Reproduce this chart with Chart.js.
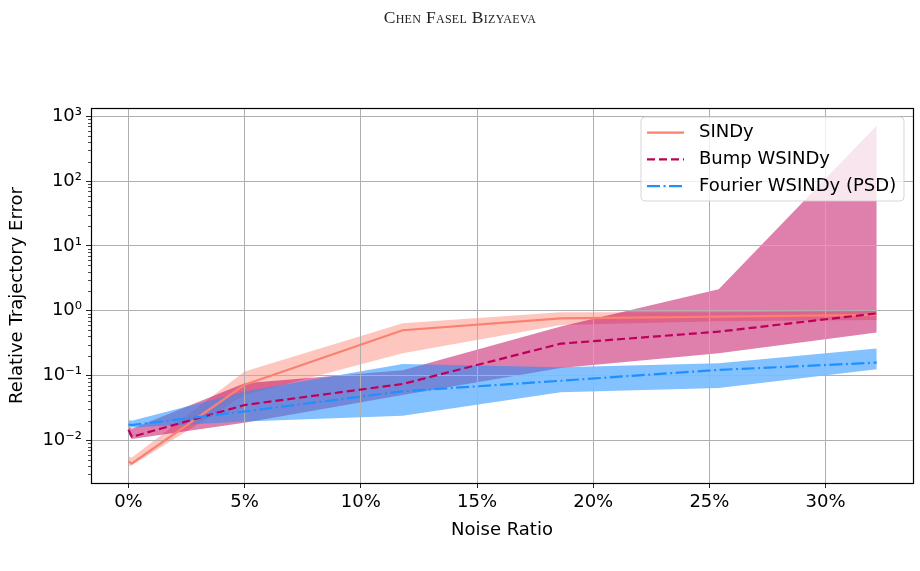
<!DOCTYPE html>
<html>
<head>
<meta charset="utf-8">
<script src="https://cdn.jsdelivr.net/npm/chart.js@4"></script>
<style>
  html, body { margin: 0; padding: 0; background: #fff; }
  #wrap { position: relative; width: 920px; height: 571px; }
  #chart { position: absolute; left: 0; top: 0; }
  #header {
    position: absolute; top: 7px; left: 0; width: 920px; text-align: center;
    font-family: 'Liberation Serif', serif; font-variant: small-caps;
    font-size: 17.5px; color: #222; letter-spacing: 0.3px;
  }
</style>
</head>
<body>
<div id="wrap">
  <canvas id="chart" width="920" height="571"></canvas>
  <div id="header">Chen Fasel Bizyaeva</div>
</div>
<script>
// noise ratio (%) of each run
const noisePct = [0, 0.15, 5.0, 11.8, 18.6, 25.4, 32.2];

// SINDy
const sindyMed = [0.0047, 0.0044, 0.072, 0.50, 0.76, 0.81, 0.86];
const sindyHi  = [0.0056, 0.0054, 0.115, 0.64, 0.95, 0.95, 0.99];
const sindyLo  = [0.0039, 0.0041, 0.050, 0.22, 0.60, 0.69, 0.72];

// Bump WSINDy
const bumpMed = [0.0145, 0.0113, 0.035, 0.074, 0.31, 0.475, 0.91];
const bumpHi  = [0.0165, 0.0150, 0.076, 0.12, 0.57, 2.14, 725];
const bumpLo  = [0.0125, 0.0105, 0.0187, 0.05, 0.13, 0.22, 0.46];

// Fourier WSINDy (PSD)
const fourierMed = [0.0175, 0.0172, 0.0278, 0.057, 0.083, 0.122, 0.158];
const fourierHi  = [0.0205, 0.0200, 0.0565, 0.15, 0.134, 0.155, 0.26];
const fourierLo  = [0.0160, 0.0158, 0.0195, 0.024, 0.055, 0.064, 0.125];

const xTicks = [0, 5, 10, 15, 20, 25, 30];
const yDecades = [-2, -1, 0, 1, 2, 3];
const yTickLabels = ['10\u207B\u00B2', '10\u207B\u00B9', '10\u2070', '10\u00B9', '10\u00B2', '10\u00B3'];

Chart.defaults.font.family = "'DejaVu Sans', sans-serif";
Chart.defaults.font.size = 18;
Chart.defaults.color = '#000';

function pts(ys) {
  return noisePct.map((x, i) => ({ x: x, y: ys[i] }));
}

function band(hi, lo, color, order) {
  return [
    { label: '', data: pts(hi), borderColor: 'rgba(0,0,0,0)', borderWidth: 0, pointRadius: 0,
      backgroundColor: color, fill: '+1', order: order },
    { label: '', data: pts(lo), borderColor: 'rgba(0,0,0,0)', borderWidth: 0, pointRadius: 0,
      fill: false, order: order }
  ];
}

const datasets = [
  ...band(sindyHi, sindyLo, 'rgba(250,128,114,0.45)', 16),
  ...band(bumpHi, bumpLo, 'rgba(190,0,90,0.5)', 15),
  ...band(fourierHi, fourierLo, 'rgba(30,144,255,0.55)', 14),
  { label: 'SINDy', data: pts(sindyMed), borderColor: '#fa8072', borderWidth: 2.2,
    pointRadius: 0, fill: false, order: 3 },
  { label: 'Bump WSINDy', data: pts(bumpMed), borderColor: 'rgb(190,0,90)', borderWidth: 2.2,
    borderDash: [8, 4], pointRadius: 0, fill: false, order: 2 },
  { label: 'Fourier WSINDy (PSD)', data: pts(fourierMed), borderColor: '#1e90ff', borderWidth: 2.2,
    borderDash: [13, 3.5, 2, 3.5], pointRadius: 0, fill: false, order: 1 }
];

// grid sits above the shaded bands but under the lines
const gridOverBands = {
  id: 'gridOverBands',
  beforeDatasetDraw(chart, args) {
    if (chart.data.datasets[args.index].label === 'SINDy') {
      chart.scales.x.drawGrid(chart.chartArea);
      chart.scales.y.drawGrid(chart.chartArea);
    }
  }
};

// minor log ticks, frame and legend box
const decorations = {
  id: 'decorations',
  afterDraw(chart) {
    const ctx = chart.ctx;
    const a = chart.chartArea;
    const y = chart.scales.y;

    ctx.save();
    ctx.strokeStyle = '#222';
    ctx.lineWidth = 0.8;
    for (let e = -3; e <= 3; e++) {
      for (let k = 2; k <= 9; k++) {
        const v = k * Math.pow(10, e);
        if (v < y.min || v > y.max) continue;
        const py = Math.round(y.getPixelForValue(v)) + 0.5;
        ctx.beginPath();
        ctx.moveTo(a.left - 3, py);
        ctx.lineTo(a.left, py);
        ctx.stroke();
      }
    }

    ctx.strokeStyle = '#000';
    ctx.lineWidth = 1.2;
    ctx.strokeRect(Math.round(a.left) + 0.5, Math.round(a.top) + 0.5,
      Math.round(a.right - a.left), Math.round(a.bottom - a.top));

    // legend
    const bx = a.right - 272, by = a.top + 9, bw = 263, bh = 84;
    ctx.beginPath();
    ctx.roundRect(bx, by, bw, bh, 4);
    ctx.fillStyle = 'rgba(255,255,255,0.8)';
    ctx.fill();
    ctx.strokeStyle = 'rgba(204,204,204,0.8)';
    ctx.lineWidth = 1;
    ctx.stroke();

    const lines = chart.data.datasets.filter(d => d.label);
    ctx.font = "18px 'DejaVu Sans', sans-serif";
    ctx.textBaseline = 'middle';
    ctx.textAlign = 'left';
    lines.forEach((d, i) => {
      const ry = by + 15.7 + i * 26.7;
      ctx.beginPath();
      ctx.setLineDash(d.borderDash || []);
      ctx.strokeStyle = d.borderColor;
      ctx.lineWidth = 2.2;
      ctx.moveTo(bx + 6, ry);
      ctx.lineTo(bx + 43, ry);
      ctx.stroke();
      ctx.setLineDash([]);
      ctx.fillStyle = '#000';
      ctx.fillText(d.label, bx + 58, ry);
    });
    ctx.restore();
  }
};

new Chart(document.getElementById('chart'), {
  type: 'line',
  data: { datasets: datasets },
  plugins: [gridOverBands, decorations],
  options: {
    responsive: false,
    animation: false,
    devicePixelRatio: 1,
    layout: { padding: { top: 108, right: 7, left: 0, bottom: 0 } },
    plugins: {
      legend: { display: false },
      tooltip: { enabled: false }
    },
    elements: { line: { tension: 0 } },
    scales: {
      x: {
        type: 'linear',
        min: -1.61,
        max: 33.76,
        afterBuildTicks: s => { s.ticks = xTicks.map(v => ({ value: v })); },
        afterFit: s => { s.height = 88; },
        ticks: { callback: v => v + '%', padding: 4, maxRotation: 0, autoSkip: false },
        grid: { color: '#b0b0b0', lineWidth: 1, tickColor: '#222', tickLength: 5, tickWidth: 1 },
        border: { display: false },
        title: { display: true, text: 'Noise Ratio', padding: { top: 0, bottom: 30 } }
      },
      y: {
        type: 'logarithmic',
        min: Math.pow(10, -2.66),
        max: Math.pow(10, 3.13),
        afterBuildTicks: s => { s.ticks = yDecades.map(e => ({ value: Math.pow(10, e) })); },
        afterFit: s => { s.width = 91; },
        ticks: { callback: (v, i) => yTickLabels[i], padding: 4, autoSkip: false },
        grid: { color: '#b0b0b0', lineWidth: 1, tickColor: '#222', tickLength: 5, tickWidth: 1 },
        border: { display: false },
        title: { display: true, text: 'Relative Trajectory Error', padding: { top: 7, bottom: 0 } }
      }
    }
  }
});
</script>
</body>
</html>
